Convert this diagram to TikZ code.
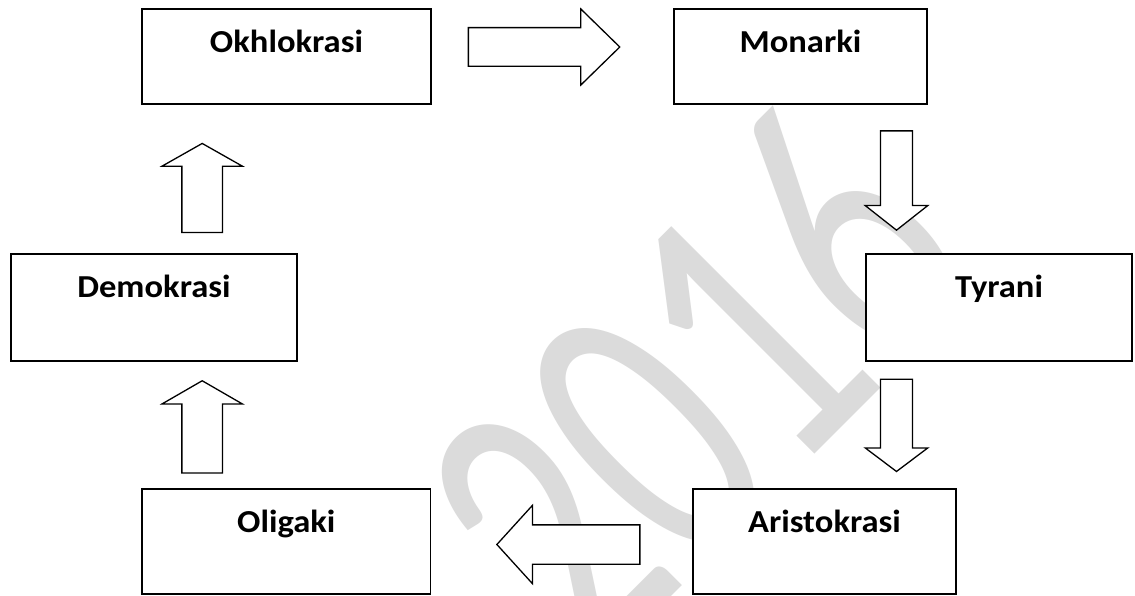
\documentclass[tikz,border=0pt]{standalone}
\usepackage{fontspec}
\setmainfont{Carlito}
\newfontfamily\labfont{Carlito}[FakeStretch=1.08]
\newfontfamily\wmfont{Carlito}
\usetikzlibrary{shapes.arrows}
\definecolor{wm}{RGB}{219,219,219}
\tikzset{
  box/.style={rectangle, draw=black, line width=1.4pt, fill=white, inner sep=0pt},
  lbl/.style={anchor=base, inner sep=0pt, font=\labfont\bfseries\fontsize{32}{38}\selectfont},
  barrow/.style={single arrow, draw=black, line width=1.3pt, fill=white, inner xsep=0pt, single arrow head indent=0pt, anchor=tip},
}
\begin{document}
\begin{tikzpicture}[x=1pt,y=1pt]
\useasboundingbox (0,0) rectangle (1135,-596);
\fill[white] (0,0) rectangle (1135,-596);
% watermark
\node[name=wmark, inner sep=0pt, text=wm, font=\wmfont\fontsize{277}{282}\selectfont, rotate=45, yscale=1.47, transform shape] at (694,-382) {2016};
% boxes
\node[box, minimum width=289, minimum height=95] (okh) at (286.5,-56.5) {};
\node[box, minimum width=253, minimum height=95] (mon) at (800.5,-56.5) {};
\node[box, minimum width=286, minimum height=107] (dem) at (154,-307.5) {};
\node[box, minimum width=266, minimum height=107] (tyr) at (999,-307.5) {};
\node[box, minimum width=288.6, minimum height=105] (oli) at (286.3,-541.5) {};
\node[box, minimum width=263, minimum height=105] (ari) at (824.5,-541.5) {};
% labels
\node[lbl] (okhl) at ([yshift=-44pt]okh.north) {Okhlokrasi};
\node[lbl] (monl) at ([yshift=-44pt]mon.north) {Monarki};
\node[lbl] (deml) at ([yshift=-44pt]dem.north) {Demokrasi};
\node[lbl] (tyrl) at ([yshift=-44pt]tyr.north) {Tyrani};
\node[lbl] (olil) at ([yshift=-44pt]oli.north) {Oligaki};
\node[lbl] (aril) at ([yshift=-44pt]ari.north) {Aristokrasi};
% block arrows (placed by their tips)
\node[barrow, inner ysep=18.7pt, minimum height=151.4, single arrow head extend=18.8, single arrow tip angle=88.6] (a1) at (620.7,-47) {};
\node[barrow, rotate=-90, inner ysep=15.35pt, minimum height=99.3, single arrow head extend=15.3, single arrow tip angle=103.6] (d1) at (896.5,-231) {};
\node[barrow, rotate=-90, inner ysep=15.35pt, minimum height=92.3, single arrow head extend=15.3, single arrow tip angle=106] (d2) at (896.5,-472.3) {};
\node[barrow, rotate=180, inner ysep=19pt, minimum height=143, single arrow head extend=19.5, single arrow tip angle=95.5] (l1) at (496,-544.5) {};
\node[barrow, rotate=90, inner ysep=19.7pt, minimum height=92.3, single arrow head extend=19.8, single arrow tip angle=120] (u2) at (202.2,-380) {};
\node[barrow, rotate=90, inner ysep=19.7pt, minimum height=89, single arrow head extend=19.8, single arrow tip angle=121] (u1) at (202.2,-142.7) {};
\end{tikzpicture}
\end{document}
